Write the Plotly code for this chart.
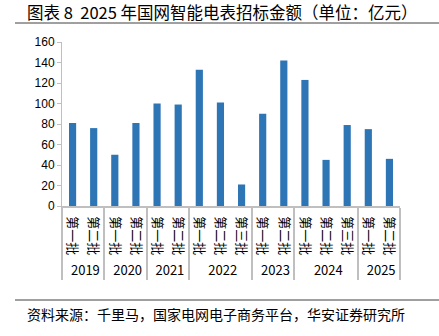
import plotly.graph_objects as go

years = ["2019", "2019", "2020", "2020", "2021", "2021", "2022", "2022", "2022",
         "2023", "2023", "2024", "2024", "2024", "2025", "2025"]
batches = ["第一批", "第二批", "第一批", "第二批", "第一批", "第二批", "第一批", "第二批", "第三批",
           "第一批", "第二批", "第一批", "第二批", "第三批", "第一批", "第二批"]
values = [81, 76, 50, 81, 100, 99, 133, 101, 21, 90, 142, 123, 45, 79, 75, 46]
y_ticks = [0, 20, 40, 60, 80, 100, 120, 140, 160]

title_text = "图表 8  2025 年国网智能电表招标金额（单位：亿元）"
source_text = "资料来源：千里马，国家电网电子商务平台，华安证券研究所"

FONT = "Noto Sans CJK SC"
fig = go.Figure(go.Bar(
    x=[years, batches], y=values, marker_color="#2E75B6",
    marker_line_width=0, width=0.34,
))

fig.update_layout(
    width=439, height=336,
    margin=dict(l=62, r=39, t=42, b=130),
    paper_bgcolor="white", plot_bgcolor="white",
    font=dict(family=FONT, color="#000000"),
    showlegend=False,
)
fig.update_yaxes(
    range=[0, 160], tickvals=y_ticks, showgrid=False, zeroline=False,
    showline=True, linecolor="#BFBFBF", linewidth=1,
    ticks="outside", ticklen=4, tickcolor="#BFBFBF",
    tickfont=dict(family="Liberation Sans", size=12, color="#000"),
)
fig.update_xaxes(
    type="multicategory", showgrid=False, showline=True, linecolor="#BFBFBF",
    linewidth=1.5, ticks="", tickangle=90, ticklabelstandoff=6,
    dividercolor="#BFBFBF", dividerwidth=1.5,
    tickfont=dict(family=FONT, size=13, color="#000"),
)

fig.add_annotation(text=title_text, xref="paper", yref="paper",
                   x=(25 - 62) / 338, y=1 + (42 - 12) / 164, xanchor="left", yanchor="middle",
                   showarrow=False, font=dict(family=FONT, size=16.5, color="#000"))
fig.add_annotation(text=source_text, xref="paper", yref="paper",
                   x=(25 - 62) / 338, y=(206 - 314) / 164, xanchor="left", yanchor="middle",
                   showarrow=False, font=dict(family=FONT, size=14, color="#000"))
fig.add_shape(type="line", xref="paper", yref="paper",
              x0=(15 - 62) / 338, x1=(439 - 62) / 338,
              y0=1 + (42 - 23) / 164, y1=1 + (42 - 23) / 164,
              line=dict(color="#404040", width=1))
fig.add_shape(type="line", xref="paper", yref="paper",
              x0=(15 - 62) / 338, x1=(439 - 62) / 338,
              y0=(206 - 300) / 164, y1=(206 - 300) / 164,
              line=dict(color="#404040", width=1))

fig.write_html("out.html")
